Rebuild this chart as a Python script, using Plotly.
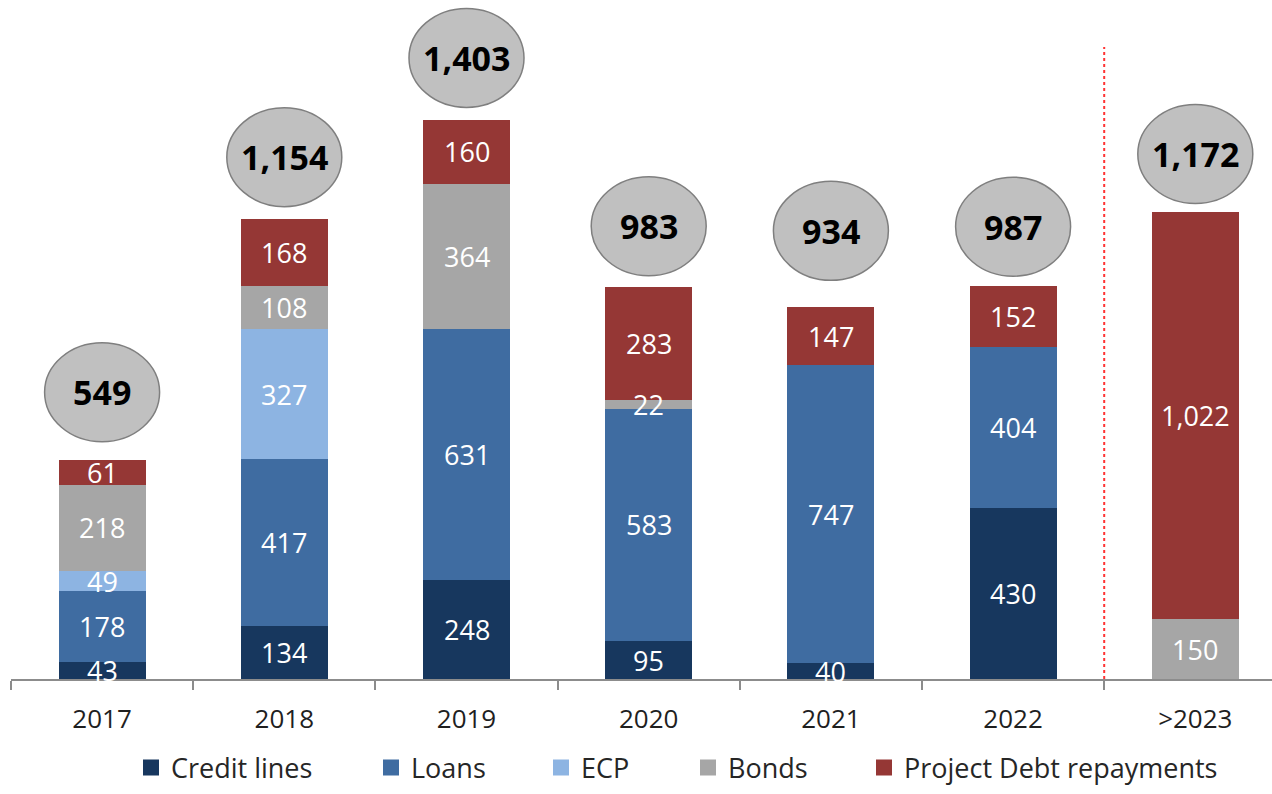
import plotly.graph_objects as go

categories = ["2017", "2018", "2019", "2020", "2021", "2022", ">2023"]
credit_lines = [43, 134, 248, 95, 40, 430, None]
loans = [178, 417, 631, 583, 747, 404, None]
ecp = [49, 327, None, None, None, None, None]
bonds = [218, 108, 364, 22, None, None, 150]
project_debt = [61, 168, 160, 283, 147, 152, 1022]
totals = [549, 1154, 1403, 983, 934, 987, 1172]

series = [
    ("Credit lines", credit_lines, "#17375e"),
    ("Loans", loans, "#3f6ca1"),
    ("ECP", ecp, "#8db4e2"),
    ("Bonds", bonds, "#a6a6a6"),
    ("Project Debt repayments", project_debt, "#953735"),
]

# layout-only settings
bubble_lift = [68, 62, 62, 61, 76, 59, 58]   # px above bar top
legend_px = [145, 385, 555, 702, 878]         # legend marker left edges (px)
FONT = "Open Sans"
W, H = 1272, 794
ML, MR, MT, MB = 11, 0, 0, 115

fig = go.Figure()
base = [0] * len(categories)
lab_x, lab_y, lab_t = [], [], []
for name, vals, col in series:
    fig.add_trace(go.Bar(
        x=categories, y=vals, name=name, marker_color=col,
        marker_line_width=0, width=0.4775,
        showlegend=False, hoverinfo="skip",
    ))
    for j, v in enumerate(vals):
        if v is None:
            continue
        lab_x.append(j)
        lab_y.append(base[j] + v / 2)
        lab_t.append(f"{v:,}")
        base[j] += v

plot_w = W - ML - MR
for i, (name, vals, col) in enumerate(series):
    lg = "legend" if i == 0 else f"legend{i+1}"
    fig.add_trace(go.Scatter(
        x=[None], y=[None], mode="markers", name=name,
        marker=dict(symbol="square", size=16, color=col),
        legend=lg, showlegend=True, hoverinfo="skip",
    ))

legend_y = -(768 - (H - MB)) / (H - MT - MB)
legends = {}
for i, px in enumerate(legend_px):
    key = "legend" if i == 0 else f"legend{i+1}"
    legends[key] = dict(
        orientation="h", yanchor="middle", y=legend_y,
        xanchor="left", x=(px - 14 - ML) / plot_w,
        font=dict(family=FONT, size=27, color="#262626"),
        bgcolor="rgba(0,0,0,0)", borderwidth=0,
    )

shapes = []
annotations = []
# segment value labels (above all bars)
for x, y, t in zip(lab_x, lab_y, lab_t):
    annotations.append(dict(
        x=x, y=y, xref="x", yref="y", text=t, showarrow=False,
        font=dict(family=FONT, size=27, color="white"),
        xanchor="center", yanchor="middle",
    ))

for i, (cat, tot) in enumerate(zip(categories, totals)):
    lift = bubble_lift[i]
    shapes.append(dict(
        type="circle", xref="x", yref="y",
        xsizemode="pixel", ysizemode="pixel",
        xanchor=i, yanchor=tot,
        x0=-57.5, x1=57.5, y0=lift - 49.5, y1=lift + 49.5,
        fillcolor="#c0c0c0", line=dict(color="#7f7f7f", width=1.5),
        layer="above",
    ))
    annotations.append(dict(
        x=i, y=tot, xref="x", yref="y", yshift=lift,
        text=f"{tot:,}", showarrow=False,
        font=dict(family=FONT, size=34, color="black", weight=700),
        xanchor="center", yanchor="middle",
    ))

# separator between forecast years and beyond
shapes.append(dict(
    type="line", xref="x", yref="paper", x0=5.5, x1=5.5, y0=0, y1=1 - 47 / (H - MT - MB),
    line=dict(color="#ff3333", width=2, dash="3px,3px"), layer="above",
))

fig.update_layout(
    width=W, height=H,
    margin=dict(l=ML, r=MR, t=MT, b=MB, pad=0),
    barmode="stack", bargap=0.52,
    plot_bgcolor="white", paper_bgcolor="white",
    shapes=shapes, annotations=annotations,
    font=dict(family=FONT),
    xaxis=dict(
        type="category", range=[-0.5, -0.5 + plot_w / 182.2],
        showgrid=False, zeroline=False,
        showline=True, linecolor="#8c8c8c", linewidth=1.5,
        ticks="outside", tickson="boundaries", ticklen=9, tickcolor="#8c8c8c", tickwidth=1.5,
        tickfont=dict(family=FONT, size=26, color="#1f1f1f"),
        ticklabelstandoff=16,
    ),
    yaxis=dict(range=[0, 1704], visible=False, showgrid=False, zeroline=False),
    **legends,
)

fig.write_html(
    "out.html",
    config={"displayModeBar": False},
    post_script="document.body.style.margin='0';document.body.style.padding='0';",
)
